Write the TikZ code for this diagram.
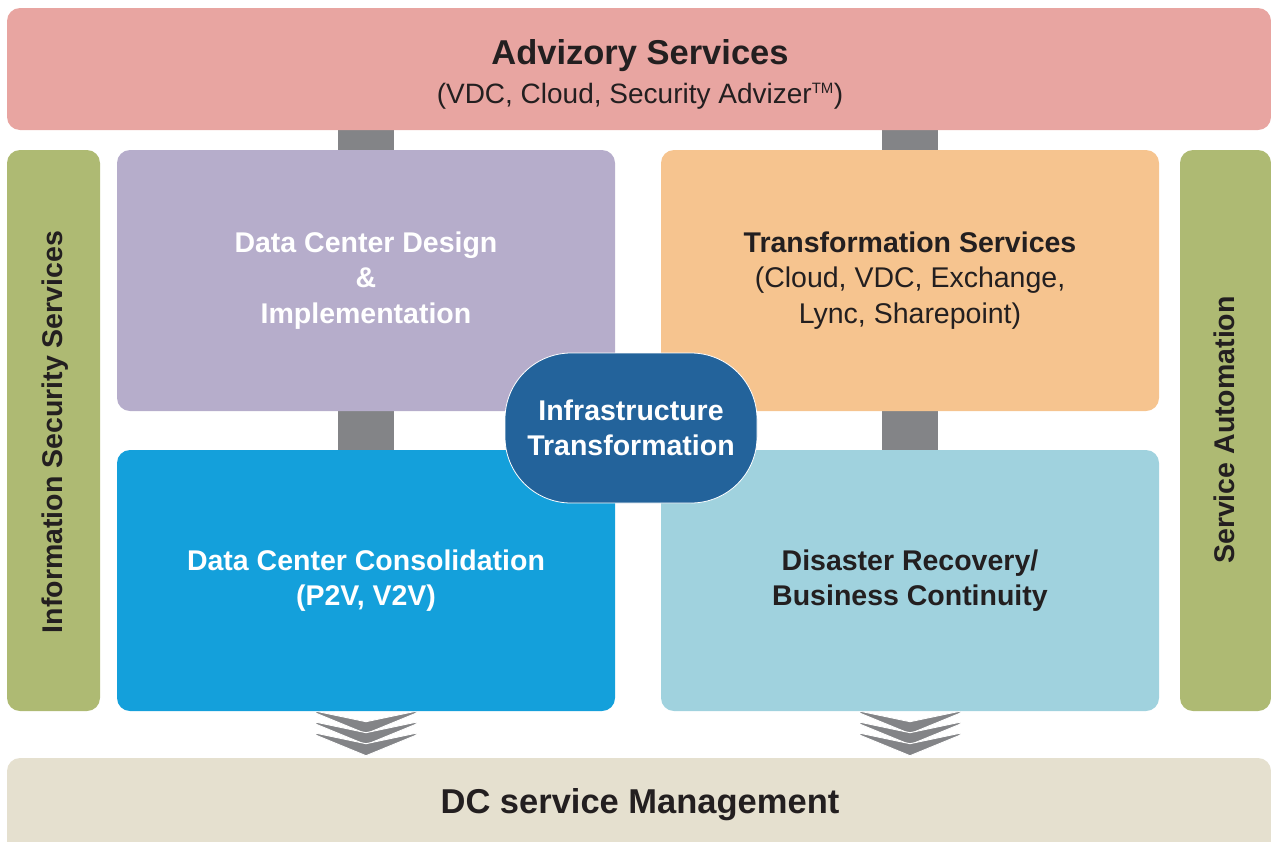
\documentclass[tikz,border=0pt]{standalone}
\usepackage{fontspec}
\setmainfont{Liberation Sans}
\usetikzlibrary{backgrounds,calc}
\definecolor{cTop}{HTML}{E8A5A1}
\definecolor{cGreen}{HTML}{AEBA73}
\definecolor{cPurple}{HTML}{B6ADCB}
\definecolor{cOrange}{HTML}{F6C48F}
\definecolor{cBlue}{HTML}{14A0DB}
\definecolor{cLBlue}{HTML}{A0D2DE}
\definecolor{cPill}{HTML}{23639B}
\definecolor{cGray}{HTML}{838487}
\definecolor{cBottom}{HTML}{E5E0CF}
\definecolor{cText}{HTML}{231F20}
\begin{document}
\begin{tikzpicture}[x=1pt,y=-1pt,
  panel/.style={rounded corners=13pt,inner sep=0pt,align=center,text=cText,
    font=\fontsize{28.5}{35.5}\selectfont\bfseries},
  conn/.style={draw=cGray,line width=56pt},
  chev/.style={fill=cGray,draw=white,line width=0.9pt,line join=bevel}]
\useasboundingbox (0,0) rectangle (1271,841);
\clip (0,0) rectangle (1271,841);
% top
\node[panel,fill=cTop,minimum width=1264pt,minimum height=122pt] (top) at (639,69) {};
\node[anchor=base,text=cText,font=\fontsize{34.5}{40}\selectfont\bfseries] (toptitle) at (640,64) {Advizory Services};
\node[anchor=base,text=cText,font=\fontsize{28}{32}\selectfont] (topsub) at (640,103) {(VDC, Cloud, Security Advizer\textsuperscript{\fontsize{15}{15}\selectfont TM})};
% side bars
\node[panel,fill=cGreen,minimum width=93pt,minimum height=561pt] (leftg) at (53.5,430.5) {};
\node[rotate=90,text=cText,font=\fontsize{28.5}{34}\selectfont\bfseries] (leftt) at (55,432) {Information Security Services};
\node[panel,fill=cGreen,minimum width=91pt,minimum height=561pt] (rightg) at (1225.5,430.5) {};
\node[rotate=90,text=cText,font=\fontsize{28.5}{34}\selectfont\bfseries] (rightt) at (1224,430) {Service Automation};
% quadrants
\node[panel,fill=cPurple,text=white,minimum width=498pt,minimum height=261pt] (purple) at (366,280.5)
  {Data Center Design\\\&\\Implementation};
\node[panel,fill=cOrange,minimum width=498pt,minimum height=261pt] (orange) at (910,280.5)
  {Transformation Services\\\mdseries (Cloud, VDC, Exchange,\\\mdseries Lync, Sharepoint)};
\node[panel,fill=cBlue,text=white,minimum width=498pt,minimum height=261pt] (blue) at (366,580.5)
  {Data Center Consolidation\\(P2V, V2V)};
\node[panel,fill=cLBlue,minimum width=498pt,minimum height=261pt] (lblue) at (910,580.5)
  {Disaster Recovery/\\Business Continuity};
% bottom
\node[panel,fill=cBottom,minimum width=1264pt,minimum height=104pt] (bottom) at (639,810) {};
\node[text=cText,font=\fontsize{34.5}{40}\selectfont\bfseries] (bottomt) at (640,805) {DC service Management};
% centre pill
\node[panel,fill=cPill,draw=white,line width=0.8pt,text=white,rounded corners=66pt,
  minimum width=252pt,minimum height=150pt] (pill) at (631,428)
  {Infrastructure\\Transformation};
\begin{scope}[on background layer]
  \draw[conn] (top.south -| purple.north) -- (purple.north);
  \draw[conn] (top.south -| orange.north) -- (orange.north);
  \draw[conn] (purple.south) -- (blue.north);
  \draw[conn] (orange.south) -- (lblue.north);
  \foreach \n in {blue,lblue}{
    \foreach \t in {0,11,22}{
      \filldraw[chev] ($(\n.south)+(-50,\t)$) -- ++(50,10.5) -- ++(50,-10.5)
        -- ++(0,2) -- ++(-50,20.5) -- ++(-50,-20.5) -- cycle;
    }
  }
\end{scope}
\end{tikzpicture}
\end{document}
